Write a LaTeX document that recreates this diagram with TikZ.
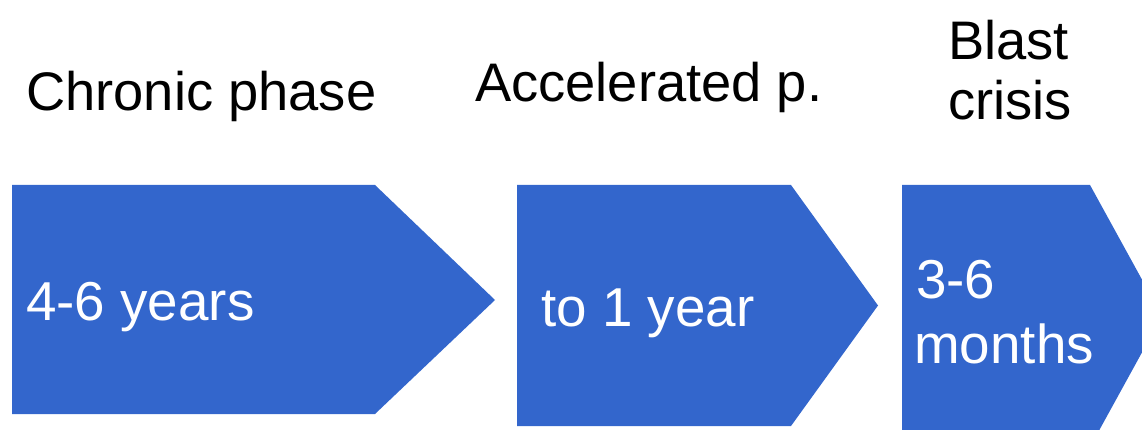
\documentclass[tikz,border=0pt]{standalone}
\usepackage{fontspec}
\setmainfont{Liberation Sans}
\definecolor{phaseblue}{RGB}{51,102,204}
\begin{document}
\begin{tikzpicture}[x=1pt,y=-1pt,
  phase/.style={fill=phaseblue,draw=none},
  heading/.style={anchor=base west,inner sep=0pt,font=\fontsize{54.3}{60}\selectfont,text=black},
  span/.style={anchor=base west,inner sep=0pt,font=\fontsize{54.8}{60}\selectfont,text=white}]
  \useasboundingbox (0,0) rectangle (1142,430);
  \clip (0,0) rectangle (1142,430);

  % phase arrows
  \fill[phase] (12,185) -- (375,185) -- (495,300) -- (375,414) -- (12,414) -- cycle;
  \fill[phase] (517,185) -- (791,185) -- (878,305.5) -- (791,426) -- (517,426) -- cycle;
  \fill[phase] (902,185) -- (1090,185) -- (1162,316) -- (1090,447) -- (902,447) -- cycle;

  % phase names
  \node[heading] (chronic) at (26,111) {Chronic phase};
  \node[heading] (accel) at (475,102) {Accelerated p.};
  \node[heading] (blast1) at (948,60) {Blast};
  \node[heading] (blast2) at (948,120) {crisis};

  % durations
  \node[span] (d1) at (26,320) {4-6 years};
  \node[span] (d2) at (541,326) {to 1 year};
  \node[span] (d3a) at (916,298) {3-6};
  \node[span] (d3b) at (914,363) {months};
\end{tikzpicture}
\end{document}
